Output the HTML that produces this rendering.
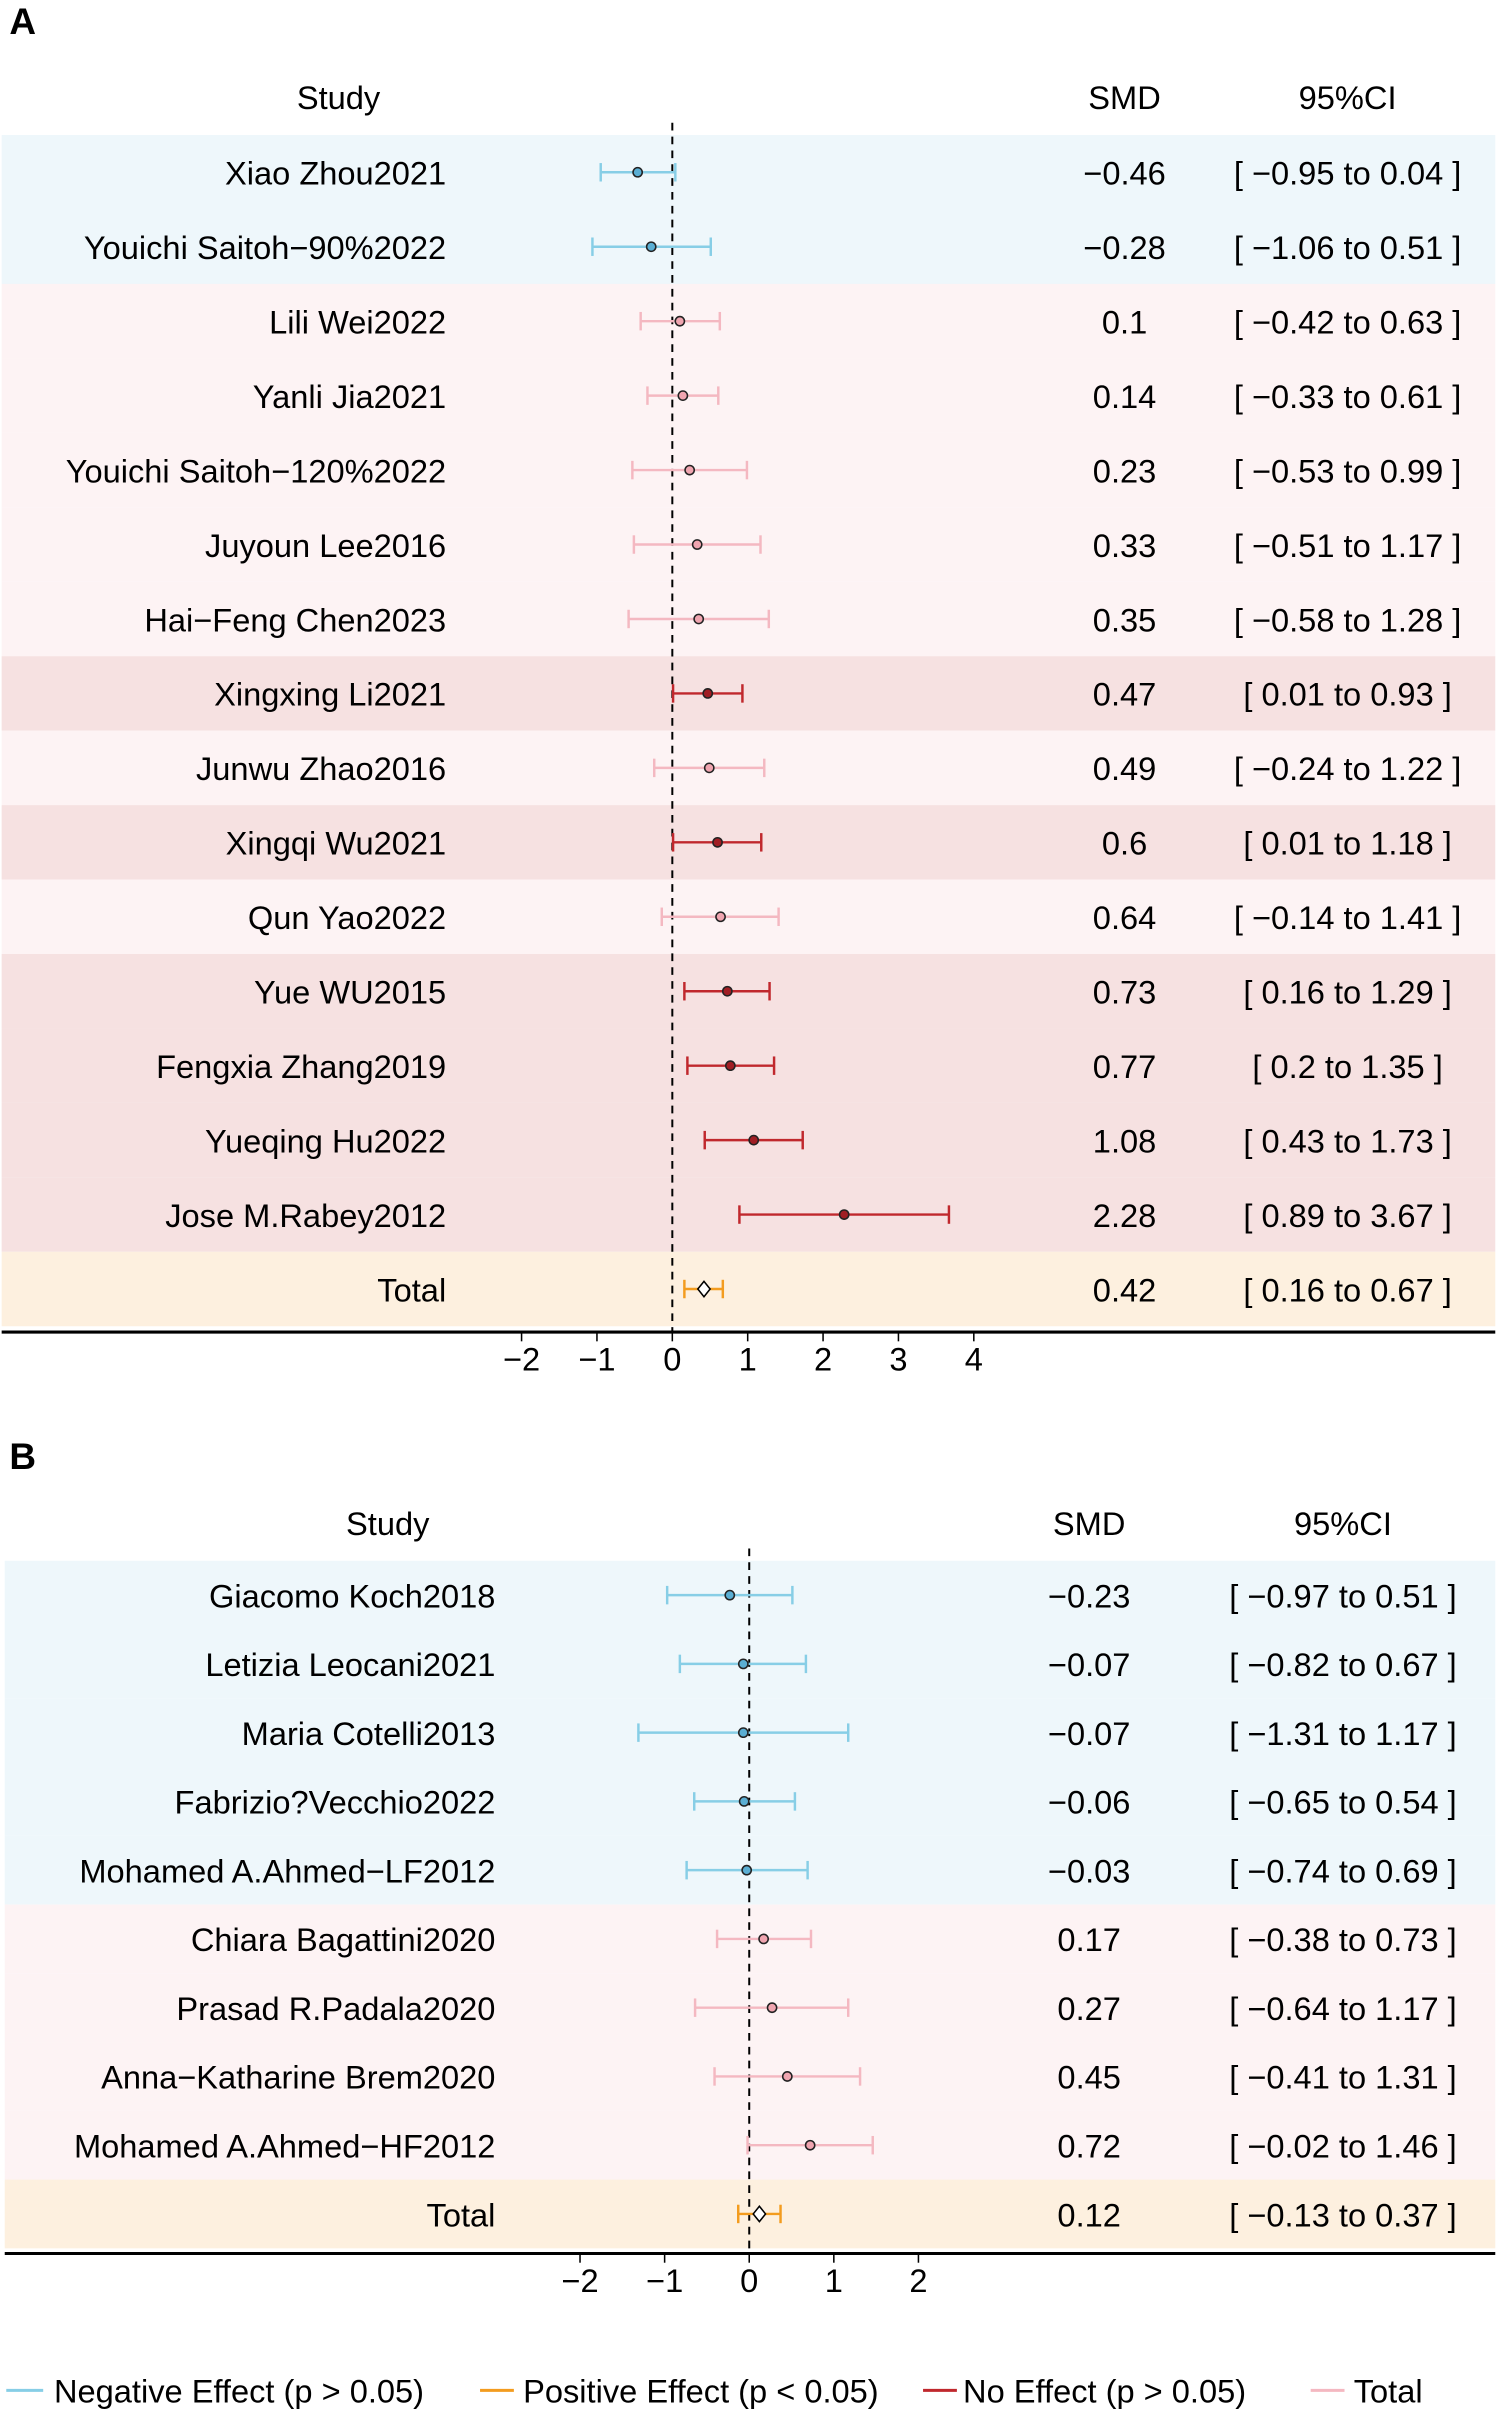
<!DOCTYPE html>
<html><head><meta charset="utf-8">
<style>
html,body{margin:0;padding:0;background:#fff;}
svg{display:block;font-family:"Liberation Sans",Arial,sans-serif;}
</style></head>
<body>
<svg id="chart" width="1500" height="2415" viewBox="0 0 975 1570" xmlns="http://www.w3.org/2000/svg">
<text x="6" y="22" font-size="24" font-weight="bold">A</text>
<text x="6" y="955" font-size="24" font-weight="bold">B</text>
<g id="gA"></g>
<g id="gB"></g>
<g id="legend">
  <line x1="4" y1="1554" x2="28" y2="1554" stroke="#87cee6" stroke-width="2"/>
  <text x="35" y="1562" font-size="21.2">Negative Effect (p &gt; 0.05)</text>
  <line x1="312" y1="1554" x2="334" y2="1554" stroke="#f39c1f" stroke-width="2"/>
  <text x="340" y="1562" font-size="21.2">Positive Effect (p &lt; 0.05)</text>
  <line x1="600" y1="1554" x2="622" y2="1554" stroke="#c0282d" stroke-width="2"/>
  <text x="626" y="1562" font-size="21.2">No Effect (p &gt; 0.05)</text>
  <line x1="852" y1="1554" x2="874" y2="1554" stroke="#f4b8c1" stroke-width="2"/>
  <text x="880" y="1562" font-size="21.2">Total</text>
</g>
</svg>
<script>
// Panel A data
const studiesA = ["Xiao Zhou2021","Youichi Saitoh\u221290%2022","Lili Wei2022","Yanli Jia2021","Youichi Saitoh\u2212120%2022","Juyoun Lee2016","Hai\u2212Feng Chen2023","Xingxing Li2021","Junwu Zhao2016","Xingqi Wu2021","Qun Yao2022","Yue WU2015","Fengxia Zhang2019","Yueqing Hu2022","Jose M.Rabey2012","Total"];
const smdA = [-0.46,-0.28,0.1,0.14,0.23,0.33,0.35,0.47,0.49,0.6,0.64,0.73,0.77,1.08,2.28,0.42];
const lowA = [-0.95,-1.06,-0.42,-0.33,-0.53,-0.51,-0.58,0.01,-0.24,0.01,-0.14,0.16,0.2,0.43,0.89,0.16];
const highA = [0.04,0.51,0.63,0.61,0.99,1.17,1.28,0.93,1.22,1.18,1.41,1.29,1.35,1.73,3.67,0.67];
const groupA = ["neg","neg","pos","pos","pos","pos","pos","sig","pos","sig","pos","sig","sig","sig","sig","total"];
const ticksA = [-2,-1,0,1,2,3,4];
// Panel B data
const studiesB = ["Giacomo Koch2018","Letizia Leocani2021","Maria Cotelli2013","Fabrizio?Vecchio2022","Mohamed A.Ahmed\u2212LF2012","Chiara Bagattini2020","Prasad R.Padala2020","Anna\u2212Katharine Brem2020","Mohamed A.Ahmed\u2212HF2012","Total"];
const smdB = [-0.23,-0.07,-0.07,-0.06,-0.03,0.17,0.27,0.45,0.72,0.12];
const lowB = [-0.97,-0.82,-1.31,-0.65,-0.74,-0.38,-0.64,-0.41,-0.02,-0.13];
const highB = [0.51,0.67,1.17,0.54,0.69,0.73,1.17,1.31,1.46,0.37];
const groupB = ["neg","neg","neg","neg","neg","pos","pos","pos","pos","total"];
const ticksB = [-2,-1,0,1,2];

const NS="http://www.w3.org/2000/svg";
const FS=21.2;
const bg={neg:"#eef7fb",pos:"#fdf3f4",sig:"#f6e1e1",total:"#fdf0df"};
const lc={neg:"#87cee6",pos:"#f4b8c1",sig:"#c0282d",total:"#f39c1f"};
const fc={neg:"#5aaed3",pos:"#f0a5b0",sig:"#a01e24",total:"#ffffff"};
function el(p,t,a){const e=document.createElementNS(NS,t);for(const k in a)e.setAttribute(k,a[k]);p.appendChild(e);return e;}
function fmt(v){return (v<0?"\u2212":"")+Math.abs(v);}
function draw(g,c,studies,smd,low,high,grp,ticks){
  const x=v=>c.x0+v*c.ppu;
  const yy=i=>c.y0+i*c.dy;
  const h=el(g,"text",{x:c.nameX-70,y:c.hy,"font-size":FS,"text-anchor":"middle"});h.textContent="Study";
  
  
  const h2=el(g,"text",{x:c.smdX,y:c.hy,"font-size":FS,"text-anchor":"middle"});h2.textContent="SMD";
  
  
  const h3=el(g,"text",{x:c.ciX,y:c.hy,"font-size":FS,"text-anchor":"middle"});h3.textContent="95%CI";
  
  
  studies.forEach((s,i)=>{
    const r=el(g,"rect",{x:c.bx,y:yy(i)-c.dy/2,width:972-c.bx,height:c.dy,fill:bg[grp[i]]});
    
    
  });
  const top=yy(0)-c.dy/2-8, bot=c.axisY;
  const zl=el(g,"line",{x1:x(0),y1:top,x2:x(0),y2:bot,stroke:"#000","stroke-width":1.3,"stroke-dasharray":"5,4"});
  
  
  studies.forEach((s,i)=>{
    const y=yy(i),k=grp[i];
    const t=el(g,"text",{x:c.nameX,y:y+8,"font-size":FS,"text-anchor":"end"});t.textContent=s;
    
    
    const l=el(g,"line",{x1:x(low[i]),y1:y,x2:x(high[i]),y2:y,stroke:lc[k],"stroke-width":1.6});
    
    
    [low[i],high[i]].forEach(v=>{const cap=el(g,"line",{x1:x(v),y1:y-6,x2:x(v),y2:y+6,stroke:lc[k],"stroke-width":1.6});
      
      });
    let p;
    if(k==="total"){const cx=x(smd[i]);p=el(g,"polygon",{points:`${cx-4},${y} ${cx},${y-5} ${cx+4},${y} ${cx},${y+5}`,fill:"#fff",stroke:"#000","stroke-width":1});}
    else p=el(g,"circle",{cx:x(smd[i]),cy:y,r:3,fill:fc[k],stroke:"#222","stroke-width":1});
    
    
    const v=el(g,"text",{x:c.smdX,y:y+8,"font-size":FS,"text-anchor":"middle"});v.textContent=fmt(smd[i]);
    
    
    const ci=el(g,"text",{x:c.ciX,y:y+8,"font-size":FS,"text-anchor":"middle"});ci.textContent="[ "+fmt(low[i])+" to "+fmt(high[i])+" ]";
    
    
  });
  const ax=el(g,"line",{x1:c.bx,y1:c.axisY,x2:972,y2:c.axisY,stroke:"#000","stroke-width":2});
  
  
  ticks.forEach(v=>{
    const tk=el(g,"line",{x1:x(v),y1:c.axisY,x2:x(v),y2:c.axisY+6,stroke:"#000","stroke-width":1});
    
    
    const tl=el(g,"text",{x:x(v),y:c.axisY+25,"font-size":FS,"text-anchor":"middle"});tl.textContent=fmt(v);
    
    
  });
}
draw(document.getElementById("gA"),{x0:437,ppu:49,y0:112,dy:48.4,nameX:290,smdX:731,ciX:876,hy:71,bx:1,axisY:866},studiesA,smdA,lowA,highA,groupA,ticksA);
draw(document.getElementById("gB"),{x0:487,ppu:55,y0:1037,dy:44.7,nameX:322,smdX:708,ciX:873,hy:998,bx:3,axisY:1465},studiesB,smdB,lowB,highB,groupB,ticksB);
</script>
</body></html>
